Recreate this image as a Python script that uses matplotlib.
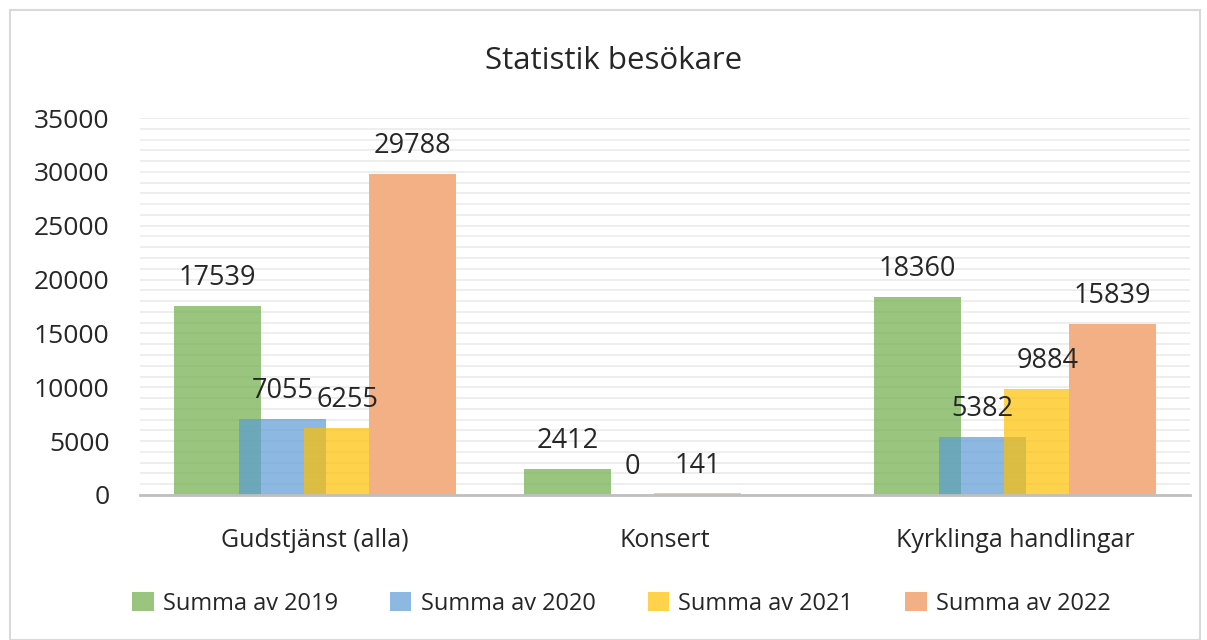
import matplotlib
matplotlib.use("Agg")
import matplotlib.pyplot as plt
import numpy as np
from matplotlib.patches import Rectangle

# Data
categories = ["Gudstjänst (alla)", "Konsert", "Kyrklinga handlingar"]
series_names = ["Summa av 2019", "Summa av 2020", "Summa av 2021", "Summa av 2022"]
v2019 = [17539, 2412, 18360]
v2020 = [7055, 0, 5382]
v2021 = [6255, 141, 9884]
v2022 = [29788, 0, 15839]
colors = ["#70AD47", "#5B9BD5", "#FFC000", "#F3B084"]
alphas = [0.7, 0.7, 0.7, 1.0]

plt.rcParams["font.family"] = ["Open Sans", "DejaVu Sans"]

fig = plt.figure(figsize=(12.07, 6.4), dpi=100)
ax = fig.add_axes([0.116, 0.2266, 0.87, 0.589])

# chart border
fig.patches.append(Rectangle((0.008, 0.0), 0.986, 0.984, transform=fig.transFigure,
                             fill=False, edgecolor="#D9D9D9", linewidth=1.5))

x = np.arange(len(categories))
width = 0.249
step = 0.186
all_vals = [v2019, v2020, v2021, v2022]
for i, (vals, name, col, a) in enumerate(zip(all_vals, series_names, colors, alphas)):
    pos = x + (i - 1.5) * step
    ax.bar(pos, vals, width=width, color=col, alpha=a, label=name, zorder=3, linewidth=0)
    for p, v in zip(pos, vals):
        if i == 3 and v == 0:
            continue
        ax.annotate(str(v), (p, v), xytext=(0, 10), textcoords="offset points",
                    ha="center", va="bottom", fontsize=19.5, color="#262626", zorder=6)

ax.set_xlim(-0.5, 2.5)
ax.set_ylim(0, 35000)
ax.set_yticks(np.arange(0, 35001, 5000))
ax.set_yticks(np.arange(0, 35001, 1000), minor=True)
ax.grid(axis="y", which="both", color="#EBEBEB", linewidth=1.2, zorder=0)
ax.set_xticks(x)
ax.set_xticklabels(categories, fontsize=18, color="#262626")
ax.tick_params(axis="both", which="both", length=0)
ax.tick_params(axis="x", pad=24)
ax.tick_params(axis="y", labelsize=19, labelcolor="#262626", pad=22)
for s in ["top", "right", "left"]:
    ax.spines[s].set_visible(False)
ax.spines["bottom"].set_color("#BFBFBF")
ax.spines["bottom"].set_linewidth(2)
ax.spines["bottom"].set_zorder(4)

fig.text(0.508, 0.905, "Statistik besökare", ha="center", va="center",
         fontsize=22.5, color="#262626")

fig.legend(loc="center", bbox_to_anchor=(0.515, 0.057), ncol=4, frameon=False,
           fontsize=17, handlelength=0.9, handleheight=0.9, columnspacing=2.2,
           handletextpad=0.4, labelcolor="#262626")

fig.savefig("out.png", dpi=100)
